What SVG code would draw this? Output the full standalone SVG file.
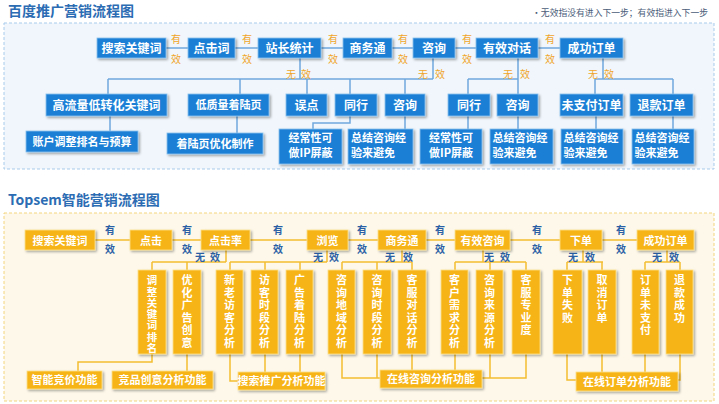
<svg xmlns="http://www.w3.org/2000/svg" width="719" height="404" viewBox="0 0 719 404">
<defs>
<filter id="sh" x="-20%" y="-20%" width="150%" height="150%">
<feDropShadow dx="1.5" dy="1.5" stdDeviation="1" flood-color="#000" flood-opacity="0.35"/>
</filter>
<style>
text{font-family:"Noto Sans CJK SC","Noto Sans",sans-serif}
.ttl{font-size:14px;font-weight:bold;fill:#2b6cb3}
.note{font-size:8.8px;fill:#4a5c78;text-anchor:end}
.b rect{fill:#1b7fd6;stroke:#8cc2ee;stroke-width:0.8;filter:url(#sh)}
.y rect{fill:#f7b416;stroke:#fde08a;stroke-width:0.8;filter:url(#sh)}
.t{font-size:12px;font-weight:bold;fill:#fff;text-anchor:middle}
.s{font-size:11px;font-weight:bold;fill:#fff;text-anchor:middle}
.sl{font-size:11px;font-weight:bold;fill:#fff}
.v{font-size:11px;font-weight:bold;fill:#fff;writing-mode:vertical-rl;letter-spacing:1.5px}
.lb{stroke:#6fa8dc;stroke-width:1.5;fill:none}
.ly{stroke:#f3bd32;stroke-width:1.5;fill:none}
.ob{font-size:10px;fill:#f0a52a;text-anchor:middle}
.oy{font-size:10px;font-weight:bold;fill:#2b5fa5;text-anchor:middle}
</style>
</defs>
<rect width="719" height="404" fill="#ffffff"/>
<text class="ttl" x="8" y="16">百度推广营销流程图</text>
<text class="note" x="708" y="16">•无效指没有进入下一步；有效指进入下一步</text>
<rect x="4" y="23" width="710" height="146" fill="#f0f6fc" stroke="#a9cbeb" stroke-dasharray="3,2"/>
<text class="ttl" x="8" y="205">Topsem智能营销流程图</text>
<rect x="4" y="213" width="710" height="188" fill="#fdf8e9" stroke="#f3d57e" stroke-dasharray="3,2"/>

<g id="connectors">
<path class="lb" d="M166 48H188M235 48H258M321 48H343M392 48H413M455 48H476M538 48H560"/>
<path class="lb" d="M300 58V79M433 58V79M108 79H433M108 79V94M240 79V94M307 79V94M350 79V94M405 79V94"/>
<path class="lb" d="M518 58V79M468 79H518M468 79V94M518 79V94"/>
<path class="lb" d="M603 58V79M595 79H673M595 79V94M673 79V94"/>
<path class="lb" d="M110 116V131M237 116V133M350 116V123H313V129M405 116V129M468 116V129M518 116V129M596 116V129M673 116V129"/>
<path class="ly" d="M95 240H130M172 240H201M250 240H307M348 240H378M426 240H455M510 240H560M602 240H637"/>
<path class="ly" d="M226 250V262M152 262H226M152 262V270M187 262V270"/>
<path class="ly" d="M327 250V262M230 262H327M230 262V270M265 262V270M300 262V270"/>
<path class="ly" d="M402 250V262M342 262H412M342 262V270M377 262V270M412 262V270"/>
<path class="ly" d="M483 250V262M455 262H526M455 262V270M490 262V270M526 262V270"/>
<path class="ly" d="M583 250V262M567 262H603M567 262V270M602 262V270"/>
<path class="ly" d="M667 250V262M645 262H680M645 262V270M680 262V270"/>
<path class="ly" d="M152 354V362H78V371M187 354V371M230 354V381H238M265 354V372M300 354V372M342 354V378H380M377 354V378M412 354V370M455 354V370M490 354V378M526 354V378H482M567 354V380H576M602 354V372M645 354V372M680 354V380H678"/>
<g class="ob">
<text x="176" y="42.5">有</text><text x="176" y="62.5">效</text>
<text x="247" y="42.5">有</text><text x="247" y="62.5">效</text>
<text x="333" y="42.5">有</text><text x="333" y="62.5">效</text>
<text x="403" y="42.5">有</text><text x="403" y="62.5">效</text>
<text x="467" y="42.5">有</text><text x="467" y="62.5">效</text>
<text x="550" y="42.5">有</text><text x="550" y="62.5">效</text>
<text x="291" y="77.5">无</text><text x="306" y="77.5">效</text>
<text x="423" y="77.5">无</text><text x="440" y="77.5">效</text>
<text x="508" y="77.5">无</text><text x="525" y="77.5">效</text>
<text x="593" y="77.5">无</text><text x="609" y="77.5">效</text>
</g>
<g class="oy">
<text x="110" y="233.5">有</text><text x="110" y="253">效</text>
<text x="187" y="233.5">有</text><text x="187" y="253">效</text>
<text x="278" y="233.5">有</text><text x="278" y="253">效</text>
<text x="362" y="233.5">有</text><text x="362" y="253">效</text>
<text x="440" y="233.5">有</text><text x="440" y="253">效</text>
<text x="537" y="233.5">有</text><text x="537" y="253">效</text>
<text x="621" y="233.5">有</text><text x="621" y="253">效</text>
<text x="200" y="261">无</text><text x="215" y="261">效</text>
<text x="318" y="261">无</text><text x="334" y="261">效</text>
<text x="390" y="261">无</text><text x="408" y="261">效</text>
<text x="489" y="261">无</text><text x="505" y="261">效</text>
<text x="573" y="261">无</text><text x="590" y="261">效</text>
<text x="657" y="261">无</text><text x="674" y="261">效</text>
</g>
</g>

<g id="b1" class="b"><rect x="97" y="38" width="69" height="20"/><text class="t" x="131.5" y="52.5">搜索关键词</text></g>
<g id="b2" class="b"><rect x="188" y="38" width="47" height="20"/><text class="t" x="211.5" y="52.5">点击词</text></g>
<g id="b3" class="b"><rect x="258" y="38" width="63" height="20"/><text class="t" x="289.5" y="52.5">站长统计</text></g>
<g id="b4" class="b"><rect x="343" y="38" width="49" height="20"/><text class="t" x="367.5" y="52.5">商务通</text></g>
<g id="b5" class="b"><rect x="413" y="38" width="42" height="20"/><text class="t" x="434" y="52.5">咨询</text></g>
<g id="b6" class="b"><rect x="476" y="38" width="62" height="20"/><text class="t" x="507" y="52.5">有效对话</text></g>
<g id="b7" class="b"><rect x="560" y="38" width="63" height="20"/><text class="t" x="591.5" y="52.5">成功订单</text></g>
<g id="b8" class="b"><rect x="46" y="94" width="121" height="22"/><text class="t" x="106.5" y="109.5">高流量低转化关键词</text></g>
<g id="b9" class="b"><rect x="188" y="94" width="81" height="22"/><text class="s" x="228.5" y="109">低质量着陆页</text></g>
<g id="b10" class="b"><rect x="286" y="94" width="41" height="22"/><text class="t" x="306.5" y="109.5">误点</text></g>
<g id="b11" class="b"><rect x="335" y="94" width="42" height="22"/><text class="t" x="356" y="109.5">同行</text></g>
<g id="b12" class="b"><rect x="385" y="94" width="40" height="22"/><text class="t" x="405" y="109.5">咨询</text></g>
<g id="b13" class="b"><rect x="448" y="94" width="42" height="22"/><text class="t" x="469" y="109.5">同行</text></g>
<g id="b14" class="b"><rect x="497" y="94" width="41" height="22"/><text class="t" x="517.5" y="109.5">咨询</text></g>
<g id="b15" class="b"><rect x="560" y="94" width="63" height="22"/><text class="t" x="591.5" y="109.5">未支付订单</text></g>
<g id="b16" class="b"><rect x="630" y="94" width="63" height="22"/><text class="t" x="661.5" y="109.5">退款订单</text></g>
<g id="b17" class="b"><rect x="26" y="131" width="112" height="21"/><text class="s" x="82" y="145.5">账户调整排名与预算</text></g>
<g id="b18" class="b"><rect x="167" y="133" width="96" height="21"/><text class="s" x="215" y="147.5">着陆页优化制作</text></g>
<g id="b19" class="b"><rect x="279" y="129" width="63" height="35"/><text class="s" x="310.5" y="142">经常性可</text><text class="s" x="310.5" y="157">做IP屏蔽</text></g>
<g id="b20" class="b"><rect x="348" y="129" width="65" height="35"/><text class="sl" x="351" y="142">总结咨询经</text><text class="sl" x="351" y="157">验来避免</text></g>
<g id="b21" class="b"><rect x="420" y="129" width="62" height="35"/><text class="s" x="451" y="142">经常性可</text><text class="s" x="451" y="157">做IP屏蔽</text></g>
<g id="b22" class="b"><rect x="490" y="129" width="63" height="35"/><text class="sl" x="492.5" y="142">总结咨询经</text><text class="sl" x="492.5" y="157">验来避免</text></g>
<g id="b23" class="b"><rect x="561" y="129" width="62" height="35"/><text class="sl" x="563.5" y="142">总结咨询经</text><text class="sl" x="563.5" y="157">验来避免</text></g>
<g id="b24" class="b"><rect x="632" y="129" width="62" height="35"/><text class="sl" x="634.5" y="142">总结咨询经</text><text class="sl" x="634.5" y="157">验来避免</text></g>

<g id="y1" class="y"><rect x="25" y="230" width="70" height="20"/><text class="s" x="60" y="244.5">搜索关键词</text></g>
<g id="y2" class="y"><rect x="130" y="230" width="42" height="20"/><text class="s" x="151" y="244.5">点击</text></g>
<g id="y3" class="y"><rect x="201" y="230" width="49" height="20"/><text class="s" x="225.5" y="244.5">点击率</text></g>
<g id="y4" class="y"><rect x="307" y="230" width="41" height="20"/><text class="s" x="327.5" y="244.5">浏览</text></g>
<g id="y5" class="y"><rect x="378" y="230" width="48" height="20"/><text class="s" x="402" y="244.5">商务通</text></g>
<g id="y6" class="y"><rect x="455" y="230" width="55" height="20"/><text class="s" x="482.5" y="244.5">有效咨询</text></g>
<g id="y7" class="y"><rect x="560" y="230" width="42" height="20"/><text class="s" x="581" y="244.5">下单</text></g>
<g id="y8" class="y"><rect x="637" y="230" width="57" height="20"/><text class="s" x="665.5" y="244.5">成功订单</text></g>

<g id="v1" class="y"><rect x="138" y="270" width="28" height="84"/><text class="v" style="font-size:10.5px;letter-spacing:0.8px" x="152" y="275">调整关键词排名</text></g>
<g id="v2" class="y"><rect x="173" y="270" width="28" height="84"/><text class="v" x="187" y="274.5">优化广告创意</text></g>
<g id="v3" class="y"><rect x="216" y="270" width="27" height="84"/><text class="v" x="229.5" y="274.5">新老访客分析</text></g>
<g id="v4" class="y"><rect x="251" y="270" width="27" height="84"/><text class="v" x="264.5" y="274.5">访客时段分析</text></g>
<g id="v5" class="y"><rect x="286" y="270" width="27" height="84"/><text class="v" x="299.5" y="274.5">广告着陆分析</text></g>
<g id="v6" class="y"><rect x="328" y="270" width="27" height="84"/><text class="v" x="341.5" y="274.5">咨询地域分析</text></g>
<g id="v7" class="y"><rect x="363" y="270" width="28" height="84"/><text class="v" x="377" y="274.5">咨询时段分析</text></g>
<g id="v8" class="y"><rect x="398" y="270" width="28" height="84"/><text class="v" x="412" y="274.5">客服对话分析</text></g>
<g id="v9" class="y"><rect x="441" y="270" width="27" height="84"/><text class="v" x="454.5" y="274.5">客户需求分析</text></g>
<g id="v10" class="y"><rect x="476" y="270" width="27" height="84"/><text class="v" x="489.5" y="274.5">咨询来源分析</text></g>
<g id="v11" class="y"><rect x="512" y="270" width="28" height="84"/><text class="v" x="526" y="274.5">客服专业度</text></g>
<g id="v12" class="y"><rect x="553" y="270" width="29" height="84"/><text class="v" x="567.5" y="274.5">下单失败</text></g>
<g id="v13" class="y"><rect x="588" y="270" width="28" height="84"/><text class="v" x="602" y="274.5">取消订单</text></g>
<g id="v14" class="y"><rect x="632" y="270" width="27" height="84"/><text class="v" x="645.5" y="274.5">订单未支付</text></g>
<g id="v15" class="y"><rect x="666" y="270" width="27" height="84"/><text class="v" x="679.5" y="274.5">退款成功</text></g>

<g id="f1" class="y"><rect x="27" y="371" width="75" height="18"/><text class="s" x="64.5" y="384">智能竞价功能</text></g>
<g id="f2" class="y"><rect x="112" y="371" width="101" height="18"/><text class="s" x="162.5" y="384">竞品创意分析功能</text></g>
<g id="f3" class="y"><rect x="238" y="372" width="87" height="18"/><text class="s" x="281.5" y="385">搜索推广分析功能</text></g>
<g id="f4" class="y"><rect x="380" y="370" width="102" height="18"/><text class="s" x="431" y="383">在线咨询分析功能</text></g>
<g id="f5" class="y"><rect x="576" y="372" width="102" height="19"/><text class="s" x="627" y="385.5">在线订单分析功能</text></g>
</svg>
